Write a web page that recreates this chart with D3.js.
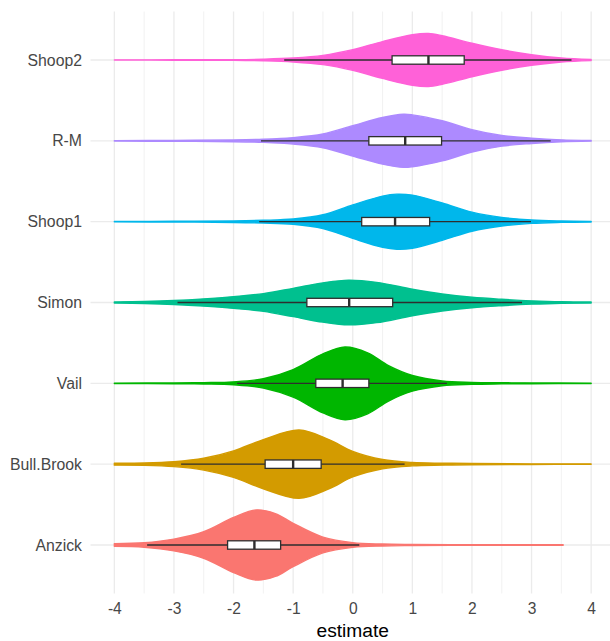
<!DOCTYPE html>
<html>
<head>
<meta charset="utf-8">
<script src="https://cdn.jsdelivr.net/npm/d3@7"></script>
<style>
  html, body { margin: 0; padding: 0; background: #fff; }
  svg { display: block; font-family: "Liberation Sans", Arial, sans-serif; }
</style>
</head>
<body>
<svg id="chart" width="610" height="641"></svg>
<script>
// Groups, top to bottom
const categories = ["Shoop2", "R-M", "Shoop1", "Simon", "Vail", "Bull.Brook", "Anzick"];
const colors = ["#FF61D8", "#AD8AFF", "#00B7EB", "#00C08F", "#00B600", "#D39B00", "#FA7670"];

// Kernel density profiles: [estimate, density]
const densShoop2 = [[-4,0.002],[-3,0.004],[-2,0.006],[-1.5,0.016],[-1,0.04],[-0.5,0.094],[0,0.21],[0.5,0.374],[1,0.514],[1.27,0.54],[1.5,0.494],[2,0.34],[2.5,0.208],[3,0.108],[3.5,0.04],[4,0.01]];
const densRM = [[-4,0.004],[-3,0.01],[-2,0.018],[-1.5,0.032],[-1,0.066],[-0.5,0.14],[0,0.308],[0.5,0.474],[0.85,0.54],[1,0.528],[1.5,0.408],[2,0.228],[2.5,0.108],[3,0.054],[3.5,0.02],[4,0.006]];
const densShoop1 = [[-4,0.004],[-3,0.008],[-2,0.016],[-1.5,0.028],[-1,0.054],[-0.5,0.14],[0,0.34],[0.5,0.52],[0.74,0.56],[1,0.54],[1.5,0.38],[2,0.194],[2.5,0.088],[3,0.034],[3.5,0.014],[4,0.006]];
const densSimon = [[-4,0.01],[-3.5,0.02],[-3,0.04],[-2.5,0.074],[-2,0.12],[-1.5,0.18],[-1,0.288],[-0.5,0.4],[-0.07,0.456],[0.4,0.41],[1,0.27],[1.5,0.174],[2,0.108],[2.5,0.066],[3,0.034],[3.5,0.014],[4,0.01]];
const densVail = [[-4,0.004],[-3,0.008],[-2.5,0.014],[-2,0.03],[-1.5,0.094],[-1,0.28],[-0.5,0.6],[-0.13,0.74],[0.25,0.62],[0.6,0.36],[1,0.16],[1.5,0.048],[2,0.02],[2.5,0.012],[3,0.008],[4,0.004]];
const densBullBrook = [[-4,0.02],[-3.5,0.024],[-3,0.05],[-2.5,0.12],[-2,0.27],[-1.5,0.5],[-0.9,0.694],[-0.4,0.5],[0,0.26],[0.5,0.094],[1,0.034],[1.5,0.02],[2,0.014],[3,0.006],[4,0.004]];
const densAnzick = [[-4,0.026],[-3.5,0.045],[-3,0.12],[-2.5,0.27],[-2,0.56],[-1.62,0.714],[-1.3,0.64],[-1,0.44],[-0.5,0.16],[0,0.048],[0.5,0.02],[1,0.012],[2,0.006],[3,0.004],[3.53,0.004]];
const densities = [densShoop2, densRM, densShoop1, densSimon, densVail, densBullBrook, densAnzick];

// Box plot statistics per group
const whiskerLow  = [-1.15, -1.54, -1.57, -2.94, -1.94, -2.88, -3.45];
const q1          = [ 0.66,  0.27,  0.15, -0.77, -0.62, -1.47, -2.10];
const medians     = [ 1.27,  0.88,  0.71, -0.06, -0.17, -1.00, -1.65];
const q3          = [ 1.87,  1.49,  1.29,  0.67,  0.27, -0.53, -1.21];
const whiskerHigh = [ 3.67,  3.32,  2.99,  2.84,  1.58,  0.87,  0.11];

const xTicks = [-4, -3, -2, -1, 0, 1, 2, 3, 4];
const xMinor = [-3.5, -2.5, -1.5, -0.5, 0.5, 1.5, 2.5, 3.5];
const xTitle = "estimate";

const svg = d3.select("#chart");
const panel = { left: 90.5, right: 615, top: 11.5, bottom: 593.5 };

const x = d3.scaleLinear().domain([-4.4, 4.4]).range([panel.left, panel.right]);
const y = d3.scalePoint().domain(categories).range([panel.top, panel.bottom]).padding(0.6);
const maxDens = d3.max(densities.flat(), d => d[1]);
const halfW = d3.scaleLinear().domain([0, maxDens]).range([0, 0.45 * y.step()]);

// grid
const grid = svg.append("g");
grid.selectAll("line.minor").data(xMinor).join("line")
  .attr("x1", d => x(d)).attr("x2", d => x(d))
  .attr("y1", panel.top).attr("y2", panel.bottom)
  .attr("stroke", "#EBEBEB").attr("stroke-width", 0.7);
grid.selectAll("line.major").data(xTicks).join("line")
  .attr("x1", d => x(d)).attr("x2", d => x(d))
  .attr("y1", panel.top).attr("y2", panel.bottom)
  .attr("stroke", "#EBEBEB").attr("stroke-width", 1.3);
grid.selectAll("line.hmajor").data(categories).join("line")
  .attr("x1", panel.left).attr("x2", panel.right)
  .attr("y1", d => y(d)).attr("y2", d => y(d))
  .attr("stroke", "#EBEBEB").attr("stroke-width", 1.3);

// violins
const violins = svg.append("g");
categories.forEach((cat, i) => {
  const cy = y(cat);
  const area = d3.area()
    .x(d => x(d[0]))
    .y0(d => cy - halfW(d[1]))
    .y1(d => cy + halfW(d[1]))
    .curve(d3.curveCatmullRom.alpha(0.5));
  violins.append("path")
    .attr("d", area(densities[i]))
    .attr("fill", colors[i])
    .attr("stroke", colors[i])
    .attr("stroke-width", 1.4)
    .attr("stroke-linejoin", "round");
});

// box plots
const boxH = 8.4;
const boxes = svg.append("g");
categories.forEach((cat, i) => {
  const cy = y(cat);
  boxes.append("line")
    .attr("x1", x(whiskerLow[i])).attr("x2", x(q1[i]))
    .attr("y1", cy).attr("y2", cy)
    .attr("stroke", "#2E2E2E").attr("stroke-width", 1.4);
  boxes.append("line")
    .attr("x1", x(q3[i])).attr("x2", x(whiskerHigh[i]))
    .attr("y1", cy).attr("y2", cy)
    .attr("stroke", "#2E2E2E").attr("stroke-width", 1.4);
  boxes.append("rect")
    .attr("x", x(q1[i])).attr("width", x(q3[i]) - x(q1[i]))
    .attr("y", cy - boxH / 2).attr("height", boxH)
    .attr("fill", "#fff").attr("stroke", "#2E2E2E").attr("stroke-width", 1.3);
  boxes.append("line")
    .attr("x1", x(medians[i])).attr("x2", x(medians[i]))
    .attr("y1", cy - boxH / 2).attr("y2", cy + boxH / 2)
    .attr("stroke", "#2E2E2E").attr("stroke-width", 2.4);
});

// y axis labels
svg.append("g").selectAll("text").data(categories).join("text")
  .attr("x", 82).attr("y", d => y(d))
  .attr("text-anchor", "end").attr("dominant-baseline", "central")
  .attr("fill", "#474747").attr("font-size", "15.8px")
  .text(d => d);

// x axis labels
const xAxis = d3.axisBottom(x).tickValues(xTicks).tickSize(0).tickPadding(0).tickFormat(d => String(d));
const gx = svg.append("g").attr("transform", `translate(0,${panel.bottom})`).call(xAxis);
gx.select(".domain").remove();
gx.selectAll("text")
  .attr("y", 14.5).attr("dy", null)
  .attr("dominant-baseline", "central")
  .attr("fill", "#474747").attr("font-size", "15.6px")
  .attr("font-family", "Liberation Sans, Arial, sans-serif");

svg.append("text")
  .attr("x", (panel.left + panel.right) / 2).attr("y", 630.5)
  .attr("text-anchor", "middle").attr("dominant-baseline", "central")
  .attr("fill", "#000").attr("font-size", "19.2px")
  .text(xTitle);
</script>
</body>
</html>
